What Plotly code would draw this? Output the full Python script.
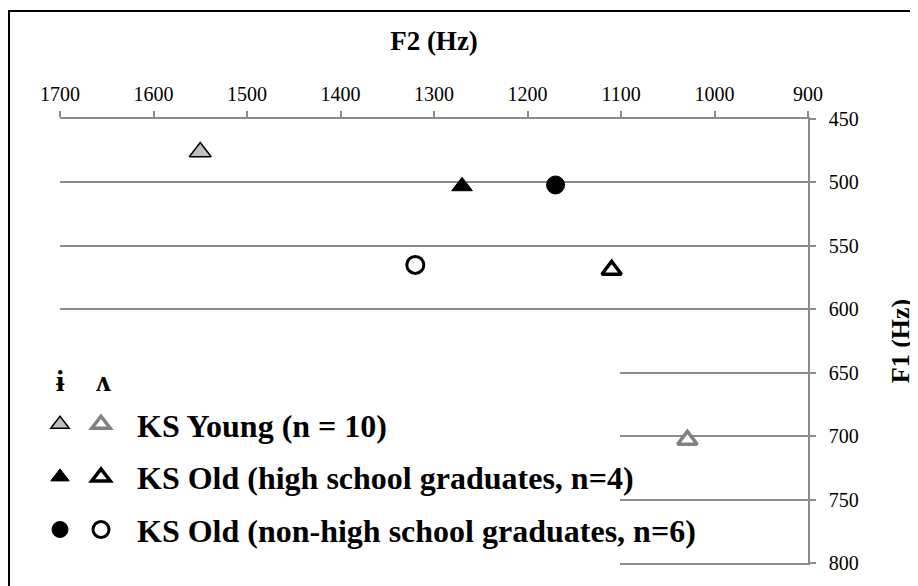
import plotly.graph_objects as go

# ---- data ----
groups = ["KS Young (n = 10)",
          "KS Old (high school graduates, n=4)",
          "KS Old (non-high school graduates, n=6)"]
f2_barred_i = [1550, 1270, 1170]   # ɨ  F2 (Hz)
f1_barred_i = [476, 503, 502]      # ɨ  F1 (Hz)
f2_wedge = [1029, 1110, 1320]      # ʌ  F2 (Hz)
f1_wedge = [703, 569, 565]         # ʌ  F1 (Hz)
vowel_labels = ["ɨ", "ʌ"]

x_ticks = [1700, 1600, 1500, 1400, 1300, 1200, 1100, 1000, 900]
y_ticks = [450, 500, 550, 600, 650, 700, 750, 800]

# ---- styles ----
SERIF = "Liberation Serif, Times New Roman, serif"
GRID = "#8c8c8c"
filled_style = [
    dict(symbol="triangle-up", size=19, color="#bfbfbf", line=dict(color="black", width=1.5)),
    dict(symbol="triangle-up", size=18, color="black", line=dict(color="black", width=1)),
    dict(symbol="circle", size=18, color="black", line=dict(color="black", width=1)),
]
open_style = [
    dict(symbol="triangle-up", size=17, color="white", line=dict(color="#808080", width=3.5)),
    dict(symbol="triangle-up", size=17, color="white", line=dict(color="black", width=3.5)),
    dict(symbol="circle", size=17, color="white", line=dict(color="black", width=3)),
]

fig = go.Figure()

for k, name in enumerate(groups):
    fig.add_trace(go.Scatter(
        x=[f2_barred_i[k]], y=[f1_barred_i[k]], mode="markers",
        marker=filled_style[k], name="\u00a0", legend="legend",
        legendgroup=f"i{k}", showlegend=True, hoverinfo="x+y"))
for k, name in enumerate(groups):
    fig.add_trace(go.Scatter(
        x=[f2_wedge[k]], y=[f1_wedge[k]], mode="markers",
        marker=open_style[k], name=name, legend="legend2",
        legendgroup=f"w{k}", showlegend=True, hoverinfo="x+y"))

# figure coords (page has an 8px body margin): plot area x 52..800, y 111..555
L, R, T, B = 52, 110, 111, 23
W, H = 910, 578
pw, ph = W - L - R, H - T - B

def px(xp):
    return (xp - L) / pw

def py(yp):
    return (H - B - yp) / ph

legend_common = dict(
    font=dict(family=SERIF, size=32, color="black", weight="bold"),
    bgcolor="rgba(0,0,0,0)", borderwidth=0, tracegroupgap=8,
    yanchor="top", xanchor="left", orientation="v",
)

fig.update_layout(
    width=W, height=H,
    margin=dict(l=L, r=R, t=T, b=B, autoexpand=False),
    paper_bgcolor="white", plot_bgcolor="white",
    font=dict(family=SERIF, color="black"),
    xaxis=dict(
        side="top", range=[x_ticks[0], x_ticks[-1]], automargin=False,
        tickvals=x_ticks, ticktext=[str(v) for v in x_ticks],
        showgrid=False, zeroline=False,
        showline=True, linecolor=GRID, linewidth=1.5, mirror=True,
        ticks="outside", ticklen=6, tickcolor=GRID, tickwidth=1.5,
        tickfont=dict(family=SERIF, size=20, color="black"),
        ticklabelstandoff=2,
        title=dict(text="F2 (Hz)", font=dict(family=SERIF, size=27, color="black", weight="bold"),
                   standoff=25),
    ),
    yaxis=dict(
        side="right", range=[y_ticks[-1], y_ticks[0]], automargin=False,
        tickvals=y_ticks, ticktext=[str(v) for v in y_ticks],
        showgrid=True, gridcolor=GRID, gridwidth=1.5, zeroline=False,
        showline=True, linecolor=GRID, linewidth=1.5,
        ticks="outside", ticklen=6, tickcolor=GRID, tickwidth=1.5,
        tickfont=dict(family=SERIF, size=20, color="black"),
        ticklabelstandoff=9,
        title=dict(text="F1 (Hz)", font=dict(family=SERIF, size=26, color="black", weight="bold"),
                   standoff=33),
    ),
    legend=dict(x=px(32), y=py(389), itemwidth=30, **legend_common),
    legend2=dict(x=px(57), y=py(389), itemwidth=62, **legend_common),
    showlegend=True,
)

# white legend box (covers grid lines behind the legend)
fig.add_shape(type="rect", xref="paper", yref="paper",
              x0=px(46), x1=px(612), y0=py(559), y1=py(337),
              fillcolor="white", line=dict(width=0), layer="above")
# outer frame (only the top and left edges fall inside the picture)
fig.add_shape(type="rect", xref="paper", yref="paper",
              x0=px(1), x1=px(930), y0=py(600), y1=py(3),
              fillcolor="rgba(0,0,0,0)", line=dict(color="black", width=2), layer="above")

# legend header: vowel symbols
for lbl, xp in zip(vowel_labels, [52, 95]):
    fig.add_annotation(text=f"<b>{lbl}</b>", xref="paper", yref="paper",
                       x=px(xp), y=py(372), xanchor="center", yanchor="middle",
                       showarrow=False, font=dict(family=SERIF, size=30, color="black"))

fig.write_html("out.html")
